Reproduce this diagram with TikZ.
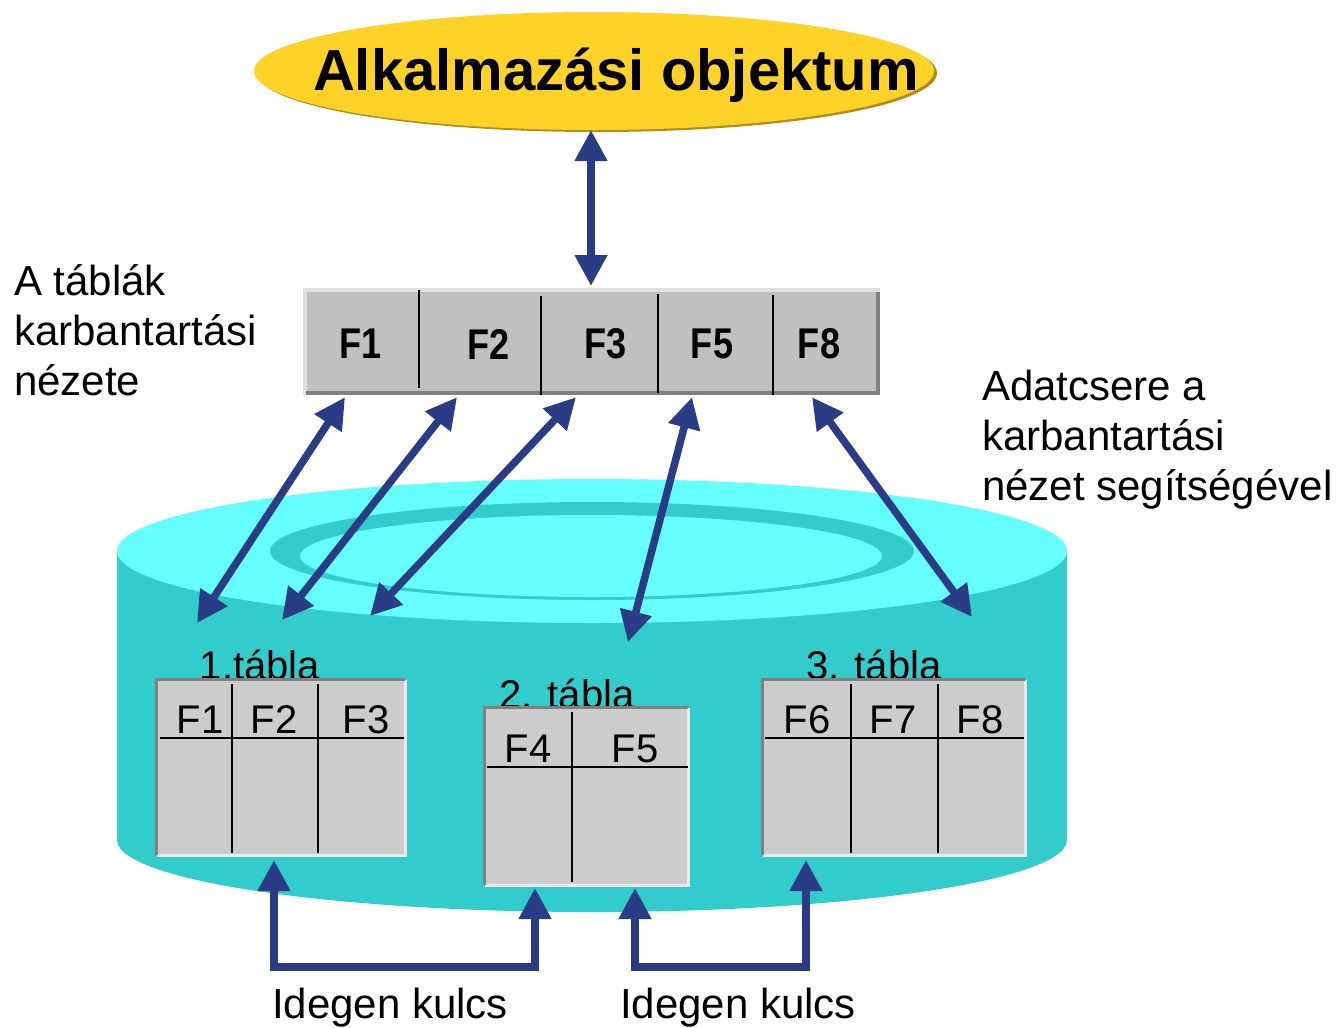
\documentclass[tikz,border=0pt]{standalone}
\usepackage{fontspec}
\setmainfont{Liberation Sans}
\newfontface\keskenyvastag[FakeStretch=0.84]{Liberation Sans Bold}
\usepackage{tikz}
\usetikzlibrary{positioning, calc}
\usetikzlibrary{arrows.meta}
\usetikzlibrary{shapes.geometric}
\definecolor{kek}{RGB}{42,60,134}
\definecolor{arany}{RGB}{255,210,40}
\definecolor{aranysotet}{RGB}{175,140,30}
\definecolor{turkiz}{RGB}{51,204,204}
\definecolor{turkizvilagos}{RGB}{102,255,255}
\definecolor{szurke}{RGB}{192,192,192}
\definecolor{tablaszurke}{RGB}{204,204,204}

\begin{document}
\begin{tikzpicture}[x=1pt, y=-1pt,
    nyil/.style={draw=kek, line width=7.5pt,
      {Triangle[width=31pt,length=31pt]}-{Triangle[width=31pt,length=31pt]}},
    mezo/.style={font=\keskenyvastag\fontsize{43}{50}\selectfont, minimum height=100pt, inner sep=0pt},
    fejlec/.style={font=\fontsize{40}{48}\selectfont, anchor=base, inner sep=0pt},
    felirat/.style={font=\fontsize{42}{50}\selectfont, inner sep=0pt, align=left},
    tabla/.style={fill=tablaszurke, inner sep=0pt},
    sotetkeret/.style={draw=gray, line width=3pt},
    vilagoskeret/.style={draw=black!8, line width=3pt},
    vonal/.style={black, line width=2.5pt}]

\useasboundingbox (0,0) rectangle (1342,1028);

%------------------------------------------------
% Adatbazis henger
%------------------------------------------------
\fill[turkiz] (592,840) ellipse [x radius=475, y radius=72];
\fill[turkiz] (117,551) rectangle (1067,840);
\fill[turkizvilagos] (592,551) ellipse [x radius=475, y radius=72];
% gyuru a fedlapon
\fill[turkiz] (592,551) ellipse [x radius=322, y radius=49];
\fill[turkizvilagos] (591,556) ellipse [x radius=291, y radius=41];

%------------------------------------------------
% Alkalmazasi objektum
%------------------------------------------------
\fill[aranysotet] (597,73) ellipse [x radius=340, y radius=59];
\node[ellipse, fill=arany, minimum width=680pt, minimum height=118pt, inner sep=0pt] (obj) at (594,71) {};
\node[font=\fontsize{58}{70}\selectfont\bfseries, anchor=base, inner sep=0pt] (objnev) at (616,90) {Alkalmazási objektum};

%------------------------------------------------
% Karbantartasi nezet
%------------------------------------------------
\fill[szurke] (305,290) rectangle (880,395);
\draw[black!12, line width=4pt] (305,395) -- (305,290) -- (880,290);
\draw[gray, line width=4pt] (306,393) -- (878,393) -- (878,292);
\draw[vonal] (419,290) -- (419,388);
\draw[vonal] (541,296) -- (541,395);
\draw[vonal] (658,294) -- (658,393);
\draw[vonal] (773,295) -- (773,395);

\node[mezo] (v1) at (361,344) {F1};
\node[mezo] (v2) at (489,344) {F2};
\node[mezo] (v3) at (606,344) {F3};
\node[mezo] (v5) at (712,344) {F5};
\node[mezo] (v8) at (819,344) {F8};

%------------------------------------------------
% Tablak
%------------------------------------------------
\node[fejlec] (n1) at (260,679) {1.tábla};
\node[fejlec] (n2) at (567,708) {2. tábla};
\node[fejlec] (n3) at (874,679) {3. tábla};

% 1. tabla
\node[tabla, minimum width=248pt, minimum height=175pt] (tab1) at (281,767.5) {};
\draw[vilagoskeret] (tab1.north east) -- (tab1.south east) -- (tab1.south west);
\draw[sotetkeret] (tab1.south west) -- (tab1.north west) -- (tab1.north east);
\draw[vonal] (160,738) -- (404,738);
\draw[vonal] (232,684) -- (232,853);
\draw[vonal] (318,684) -- (318,853);
\node[fejlec] (t1a) at (200,733) {F1};
\node[fejlec] (t1b) at (274,733) {F2};
\node[fejlec] (t1c) at (366,733) {F3};

% 2. tabla
\node[tabla, minimum width=203pt, minimum height=177pt] (tab2) at (586.5,796.5) {};
\draw[vilagoskeret] (tab2.north east) -- (tab2.south east) -- (tab2.south west);
\draw[sotetkeret] (tab2.south west) -- (tab2.north west) -- (tab2.north east);
\draw[vonal] (487,767) -- (688,767);
\draw[vonal] (572,712) -- (572,882);
\node[fejlec] (t2a) at (528,762) {F4};
\node[fejlec] (t2b) at (635,762) {F5};

% 3. tabla
\node[tabla, minimum width=262pt, minimum height=175pt] (tab3) at (894,767.5) {};
\draw[vilagoskeret] (tab3.north east) -- (tab3.south east) -- (tab3.south west);
\draw[sotetkeret] (tab3.south west) -- (tab3.north west) -- (tab3.north east);
\draw[vonal] (765,738) -- (1024,738);
\draw[vonal] (851,684) -- (851,853);
\draw[vonal] (938,684) -- (938,853);
\node[fejlec] (t3a) at (807,733) {F6};
\node[fejlec] (t3b) at (893,733) {F7};
\node[fejlec] (t3c) at (980,733) {F8};

%------------------------------------------------
% Nyilak
%------------------------------------------------
\coordinate (objalja) at (591,130);
\coordinate (nezetfent) at (591,286);
\draw[nyil] (objalja) -- (nezetfent);

\coordinate (b1) at (197,623);
\coordinate (b2) at (282,620);
\coordinate (b3) at (370,616);
\coordinate (b5) at (628,642);
\coordinate (b8) at (972,617);
\draw[nyil] ($(v1.south)+(-16,3)$) -- (b1);
\draw[nyil] ($(v2.south)+(-32,3)$) -- (b2);
\draw[nyil] ($(v3.south)+(-30,3)$) -- (b3);
\draw[nyil] ($(v5.south)+(-20,3)$) -- (b5);
\draw[nyil] ($(v8.south)+(-7,3)$) -- (b8);

% idegen kulcsok
\coordinate (k1a) at (274,860);
\coordinate (k1b) at (535,888);
\coordinate (k2a) at (635,888);
\coordinate (k2b) at (806,860);
\draw[nyil] (k1a) -- (274,967) -| (k1b);
\draw[nyil] (k2a) -- (635,967) -| (k2b);

%------------------------------------------------
% Feliratok
%------------------------------------------------
\node[felirat, anchor=north west] (balszoveg) at (14,264) {A táblák\\karbantartási\\nézete};
\node[felirat, anchor=north west] (jobbszoveg) at (982,370) {Adatcsere a\\karbantartási\\nézet segítségével};
\node[felirat, anchor=base] (ik1) at (390,1018) {Idegen kulcs};
\node[felirat, anchor=base] (ik2) at (738,1018) {Idegen kulcs};
\end{tikzpicture}
\end{document}
